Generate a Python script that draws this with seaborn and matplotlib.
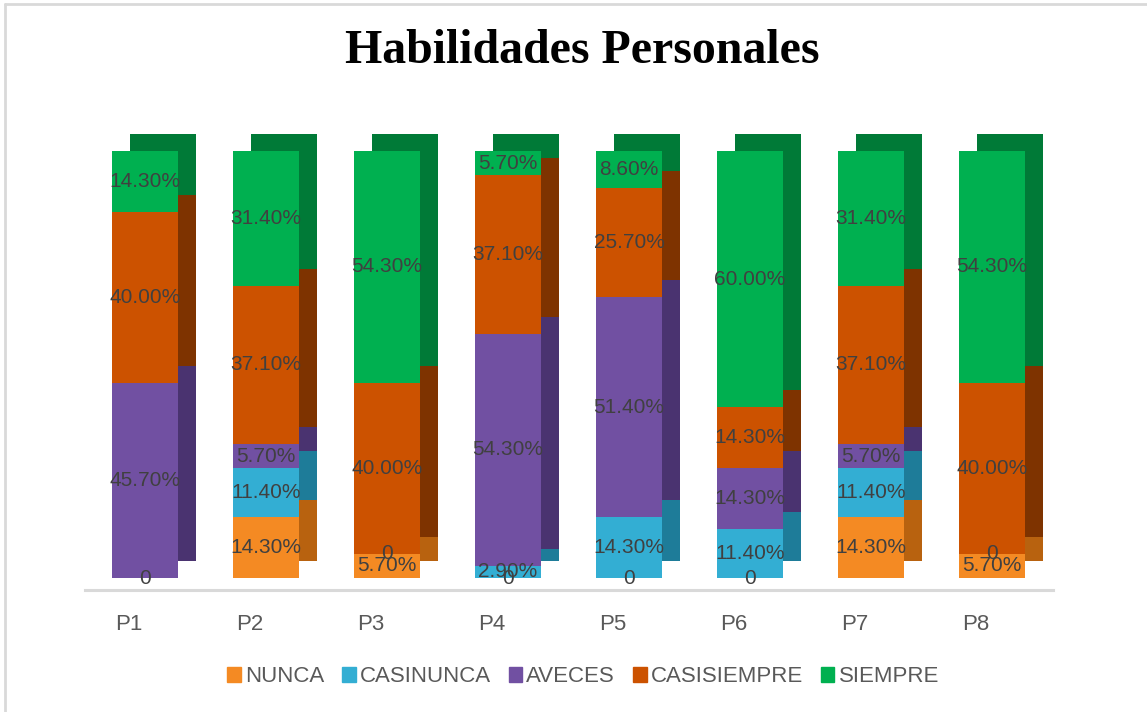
import numpy as np
import pandas as pd
import matplotlib
matplotlib.use("Agg")
import matplotlib.pyplot as plt
import matplotlib.transforms as mtransforms
from matplotlib.patches import Patch
from matplotlib.lines import Line2D
import seaborn as sns

# ---------------- data ----------------
questions = ["P1", "P2", "P3", "P4", "P5", "P6", "P7", "P8"]
series = ["NUNCA", "CASINUNCA", "AVECES", "CASISIEMPRE", "SIEMPRE"]
nunca       = [0.0,  14.3, 5.7,    0.0,  0.0,  0.0,  14.3, 5.7]
casinunca   = [np.nan, 11.4, 0.0,  2.9,  14.3, 11.4, 11.4, 0.0]
aveces      = [45.7, 5.7,  np.nan, 54.3, 51.4, 14.3, 5.7,  np.nan]
casisiempre = [40.0, 37.1, 40.0,   37.1, 25.7, 14.3, 37.1, 40.0]
siempre     = [14.3, 31.4, 54.3,   5.7,  8.6,  60.0, 31.4, 54.3]
title = "Habilidades Personales"

front_colors = ["#F48A23", "#33AED3", "#7150A2", "#CC5200", "#00B050"]
side_colors  = ["#B8620F", "#1E7C99", "#4A3370", "#7E3300", "#007A37"]

values = {"NUNCA": nunca, "CASINUNCA": casinunca, "AVECES": aveces,
          "CASISIEMPRE": casisiempre, "SIEMPRE": siempre}

df = pd.DataFrame({"question": questions})
for s in series:
    df[s] = values[s]
filled = df[series].fillna(0.0)
cum = filled.cumsum(axis=1)
bottoms = cum - filled

# ---------------- figure ----------------
sns.set_style("white")
plt.rcParams["font.family"] = ["Liberation Sans", "DejaVu Sans"]

W, H = 1147, 712
fig = plt.figure(figsize=(W / 100, H / 100), dpi=100)
ax_left, ax_right = 84.5, 1052.5
ax_top, ax_bot = 151, 590
ax = fig.add_axes([ax_left / W, 1 - ax_bot / H, (ax_right - ax_left) / W, (ax_bot - ax_top) / H])

bar_w = 0.545
offset = mtransforms.ScaledTranslation(0.18, 0.17, fig.dpi_scale_trans)

# pass 1: depth (side and top faces), largest cumulative first
for k in range(len(series) - 1, -1, -1):
    s = series[k]
    d = pd.DataFrame({"question": questions, "cum": cum[s].values})
    n_before = len(ax.patches)
    sns.barplot(data=d, x="question", y="cum", order=questions, color=side_colors[k],
                saturation=1, width=bar_w, errorbar=None, ax=ax, linewidth=0)
    for p in ax.patches[n_before:]:
        p.set_transform(ax.transData + offset)
        p.set_clip_on(False)

# pass 2: front faces
for k in range(len(series) - 1, -1, -1):
    s = series[k]
    d = pd.DataFrame({"question": questions, "cum": cum[s].values})
    n_before = len(ax.patches)
    sns.barplot(data=d, x="question", y="cum", order=questions, color=front_colors[k],
                saturation=1, width=bar_w, errorbar=None, ax=ax, linewidth=0)
    for p in ax.patches[n_before:]:
        p.set_clip_on(False)

# data labels
for k, s in enumerate(series):
    for i, q in enumerate(questions):
        v = df[s].iloc[i]
        if pd.isna(v):
            continue
        y = bottoms[s].iloc[i] + v / 2
        lab = "0" if v == 0 else f"{v:.2f}%"
        ax.text(i, y, lab, ha="center", va="center", fontsize=15, color="#404040")

ax.set_xlim(-0.5, len(questions) - 0.5)
ax.set_ylim(-2.8, 100)
ax.set_xlabel("")
ax.set_ylabel("")
ax.set_yticks([])
ax.tick_params(axis="x", length=0, pad=17, labelsize=16, labelcolor="#595959")
shift = mtransforms.ScaledTranslation(-0.16, 0, fig.dpi_scale_trans)
for t in ax.get_xticklabels():
    t.set_transform(t.get_transform() + shift)
for sp in ["left", "right", "top"]:
    ax.spines[sp].set_visible(False)
ax.spines["bottom"].set_color("#D9D9D9")
ax.spines["bottom"].set_linewidth(2.2)

# title
fig.text(582 / W, 1 - 51 / H, title, ha="center", va="center",
         fontsize=34.5, fontweight="bold", family=["Liberation Serif", "DejaVu Serif"], color="black")

# legend
handles = [Patch(facecolor=c, edgecolor=c) for c in front_colors]
leg = fig.legend(handles, series, loc="center", bbox_to_anchor=(583 / W, 1 - 677 / H),
                 ncol=5, frameon=False, fontsize=16, handlelength=0.62, handleheight=0.62,
                 handletextpad=0.18, columnspacing=0.8)
for t in leg.get_texts():
    t.set_color("#595959")

# outer frame (left and top)
fig.add_artist(Line2D([5 / W, 5 / W], [0, 1 - 4 / H], transform=fig.transFigure,
                      color="#D9D9D9", linewidth=2))
fig.add_artist(Line2D([5 / W, 1], [1 - 4 / H, 1 - 4 / H], transform=fig.transFigure,
                      color="#D9D9D9", linewidth=2))

fig.savefig("out.png", dpi=100)
